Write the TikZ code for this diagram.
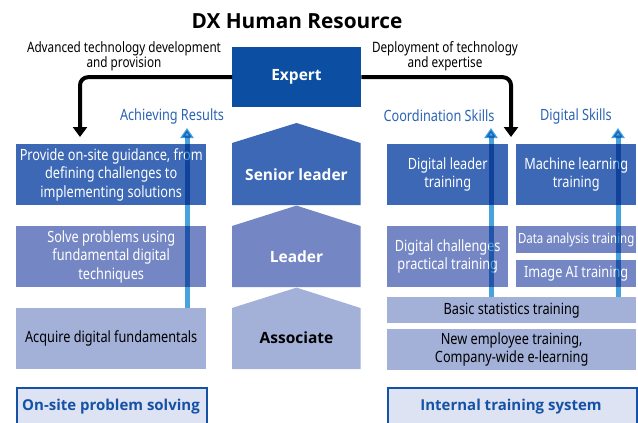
\documentclass[tikz,border=0pt]{standalone}
\usepackage{fontspec}
\setmainfont{Noto Sans}[FakeStretch=0.82]
\newfontfamily\boldfont{Open Sans}
\usetikzlibrary{arrows.meta}
\definecolor{cexpert}{HTML}{0B4EA2}
\definecolor{cone}{HTML}{3D68B5}
\definecolor{ctwo}{HTML}{7487C4}
\definecolor{cthree}{HTML}{A3B0D8}
\definecolor{cpale}{HTML}{DDE3F3}
\definecolor{cborder}{HTML}{1552A6}
\definecolor{ctext}{HTML}{2B63B3}
\definecolor{carrow}{HTML}{48A2DB}
\newcommand\bodyfont{\fontsize{15.5}{18.3}\selectfont}
\newcommand\notefont{\fontsize{14.3}{15.2}\selectfont}
\newcommand\rbox[7]{\node[box,#6,minimum width={#4pt-#2pt},minimum height={#5pt-#3pt}] (#1) at (#2,-#3) {#7};}
\tikzset{
  box/.style={anchor=north west, inner sep=0pt, align=center, font=\bodyfont},
  lvone/.style={fill=cone, text=white},
  lvtwo/.style={fill=ctwo, text=white},
  lvthree/.style={fill=cthree, text=black},
  framebox/.style={fill=cpale, draw=cborder, line width=2pt},
  frametext/.style={text=cborder, font=\boldfont\bfseries\fontsize{15}{18}\selectfont},
  lvlabel/.style={font=\boldfont\bfseries\fontsize{15.5}{18}\selectfont},
  blackarr/.style={line width=4pt, rounded corners=8pt, -{Triangle[width=14pt,length=10pt]}},
  bluearr/.style={line width=5pt, carrow, -{Triangle[width=13pt,length=10pt]}},
  skill/.style={text=ctext, font=\bodyfont},
  note/.style={align=center, font=\notefont},
}
\begin{document}
\begin{tikzpicture}[x=1pt,y=1pt]
\useasboundingbox (0,0) rectangle (638,-423);
% title
\node[font=\boldfont\bfseries\fontsize{20.8}{24}\selectfont] (title) at (297,-21) {DX Human Resource};
% expert
\rbox{expert}{232}{47}{361}{107}{fill=cexpert}{}
\node[lvlabel, text=white] (experttext) at (296.5,-76.5) {Expert};
% left column
\rbox{l1}{16}{144}{206}{205}{lvone}{Provide on-site guidance, from\\defining challenges to\\implementing solutions}
\rbox{l2}{16}{226}{206}{287}{lvtwo}{Solve problems using\\fundamental digital\\techniques}
\rbox{l3}{16}{308}{206}{369}{lvthree}{Acquire digital fundamentals}
\rbox{lframe}{16}{387}{206}{428}{framebox}{}
\node[frametext] (lframetext) at (111,-407) {On-site problem solving};
% centre pentagons
\fill[cone] (232,-205) -- (232,-143) -- (296.5,-123) -- (360.5,-143) -- (360.5,-205) -- cycle;
\fill[ctwo] (232,-287) -- (232,-226) -- (296.5,-205.6) -- (360.5,-226) -- (360.5,-287) -- cycle;
\fill[cthree] (232,-369) -- (232,-308) -- (296.5,-287.6) -- (360.5,-308) -- (360.5,-369) -- cycle;
\node[lvlabel, text=white] (senior) at (296.5,-175) {Senior leader};
\node[lvlabel, text=white] (leader) at (296.5,-257) {Leader};
\node[lvlabel, text=black] (assoc) at (296.5,-338) {Associate};
% right column
\rbox{r1}{387}{144}{508}{205}{lvone}{Digital leader\\training}
\rbox{r2}{516}{144}{636}{205}{lvone}{Machine learning\\training}
\rbox{r3}{387}{226}{508}{287}{lvtwo}{Digital challenges\\practical training}
\rbox{r4}{516}{226}{636}{253}{lvtwo,font=\fontsize{14}{17}\selectfont}{Data analysis training}
\rbox{r5}{516}{260}{636}{287}{lvtwo}{Image AI training}
\rbox{r6}{387}{297}{636}{323}{lvthree}{Basic statistics training}
\rbox{r7}{387}{329}{636}{370}{lvthree}{New employee training,\\Company-wide e-learning}
\rbox{rframe}{387}{387}{636}{428}{framebox}{}
\node[frametext] (rframetext) at (511,-407) {Internal training system};
% skill labels
\node[skill] (achieve) at (172,-116) {Achieving Results};
\node[skill] (coord) at (439,-116) {Coordination Skills};
\node[skill] (digital) at (576,-116) {Digital Skills};
% black arrows
\coordinate (ltip) at (80,-137);
\coordinate (rtip) at (511,-137);
\draw[blackarr] (expert.west) -| (ltip);
\draw[blackarr] (expert.east) -| (rtip);
\node[note] (lnote) at (124,-56) {Advanced technology development\\and provision};
\node[note] (rnote) at (445,-56) {Deployment of technology\\and expertise};
% blue arrows
\coordinate (la) at (187,-128);
\coordinate (ca) at (491,-128);
\coordinate (da) at (618,-128);
\begin{scope}[blend mode=multiply]
\draw[bluearr] (l3.north -| la) -- (la);
\draw[bluearr] (r6.north -| ca) -- (ca);
\draw[bluearr] (r6.north -| da) -- (da);
\end{scope}
\end{tikzpicture}
\end{document}
